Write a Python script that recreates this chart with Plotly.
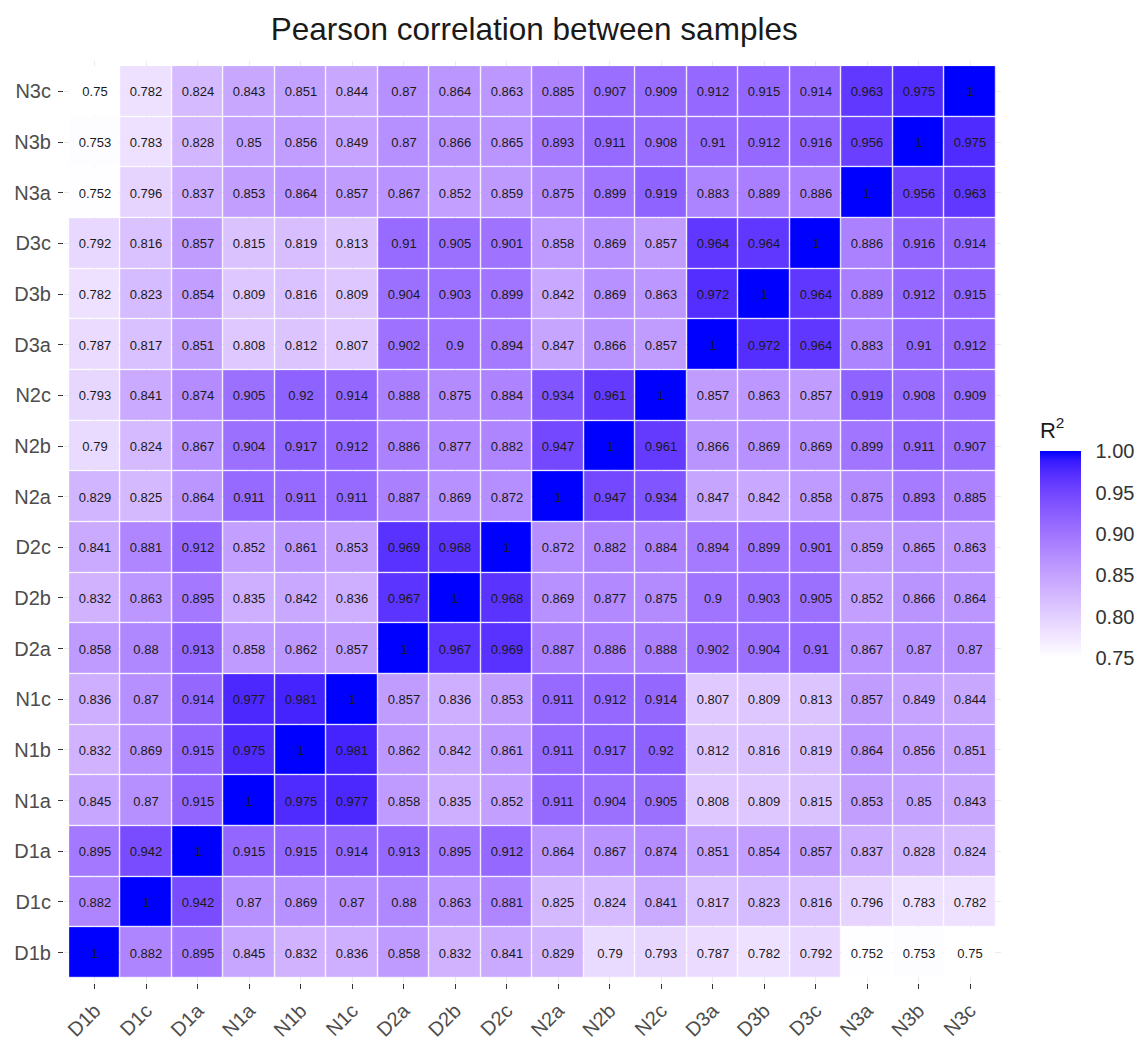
import plotly.graph_objects as go

# Sample order used on both axes (bottom-to-top on y, left-to-right on x)
samples = ["D1b", "D1c", "D1a", "N1a", "N1b", "N1c", "D2a", "D2b", "D2c",
           "N2a", "N2b", "N2c", "D3a", "D3b", "D3c", "N3a", "N3b", "N3c"]

# Pearson correlation of each sample against every sample (same column order)
r_D1b = [1, 0.882, 0.895, 0.845, 0.832, 0.836, 0.858, 0.832, 0.841, 0.829, 0.79, 0.793, 0.787, 0.782, 0.792, 0.752, 0.753, 0.75]
r_D1c = [0.882, 1, 0.942, 0.87, 0.869, 0.87, 0.88, 0.863, 0.881, 0.825, 0.824, 0.841, 0.817, 0.823, 0.816, 0.796, 0.783, 0.782]
r_D1a = [0.895, 0.942, 1, 0.915, 0.915, 0.914, 0.913, 0.895, 0.912, 0.864, 0.867, 0.874, 0.851, 0.854, 0.857, 0.837, 0.828, 0.824]
r_N1a = [0.845, 0.87, 0.915, 1, 0.975, 0.977, 0.858, 0.835, 0.852, 0.911, 0.904, 0.905, 0.808, 0.809, 0.815, 0.853, 0.85, 0.843]
r_N1b = [0.832, 0.869, 0.915, 0.975, 1, 0.981, 0.862, 0.842, 0.861, 0.911, 0.917, 0.92, 0.812, 0.816, 0.819, 0.864, 0.856, 0.851]
r_N1c = [0.836, 0.87, 0.914, 0.977, 0.981, 1, 0.857, 0.836, 0.853, 0.911, 0.912, 0.914, 0.807, 0.809, 0.813, 0.857, 0.849, 0.844]
r_D2a = [0.858, 0.88, 0.913, 0.858, 0.862, 0.857, 1, 0.967, 0.969, 0.887, 0.886, 0.888, 0.902, 0.904, 0.91, 0.867, 0.87, 0.87]
r_D2b = [0.832, 0.863, 0.895, 0.835, 0.842, 0.836, 0.967, 1, 0.968, 0.869, 0.877, 0.875, 0.9, 0.903, 0.905, 0.852, 0.866, 0.864]
r_D2c = [0.841, 0.881, 0.912, 0.852, 0.861, 0.853, 0.969, 0.968, 1, 0.872, 0.882, 0.884, 0.894, 0.899, 0.901, 0.859, 0.865, 0.863]
r_N2a = [0.829, 0.825, 0.864, 0.911, 0.911, 0.911, 0.887, 0.869, 0.872, 1, 0.947, 0.934, 0.847, 0.842, 0.858, 0.875, 0.893, 0.885]
r_N2b = [0.79, 0.824, 0.867, 0.904, 0.917, 0.912, 0.886, 0.877, 0.882, 0.947, 1, 0.961, 0.866, 0.869, 0.869, 0.899, 0.911, 0.907]
r_N2c = [0.793, 0.841, 0.874, 0.905, 0.92, 0.914, 0.888, 0.875, 0.884, 0.934, 0.961, 1, 0.857, 0.863, 0.857, 0.919, 0.908, 0.909]
r_D3a = [0.787, 0.817, 0.851, 0.808, 0.812, 0.807, 0.902, 0.9, 0.894, 0.847, 0.866, 0.857, 1, 0.972, 0.964, 0.883, 0.91, 0.912]
r_D3b = [0.782, 0.823, 0.854, 0.809, 0.816, 0.809, 0.904, 0.903, 0.899, 0.842, 0.869, 0.863, 0.972, 1, 0.964, 0.889, 0.912, 0.915]
r_D3c = [0.792, 0.816, 0.857, 0.815, 0.819, 0.813, 0.91, 0.905, 0.901, 0.858, 0.869, 0.857, 0.964, 0.964, 1, 0.886, 0.916, 0.914]
r_N3a = [0.752, 0.796, 0.837, 0.853, 0.864, 0.857, 0.867, 0.852, 0.859, 0.875, 0.899, 0.919, 0.883, 0.889, 0.886, 1, 0.956, 0.963]
r_N3b = [0.753, 0.783, 0.828, 0.85, 0.856, 0.849, 0.87, 0.866, 0.865, 0.893, 0.911, 0.908, 0.91, 0.912, 0.916, 0.956, 1, 0.975]
r_N3c = [0.75, 0.782, 0.824, 0.843, 0.851, 0.844, 0.87, 0.864, 0.863, 0.885, 0.907, 0.909, 0.912, 0.915, 0.914, 0.963, 0.975, 1]

corr = [r_D1b, r_D1c, r_D1a, r_N1a, r_N1b, r_N1c, r_D2a, r_D2b, r_D2c,
        r_N2a, r_N2b, r_N2c, r_D3a, r_D3b, r_D3c, r_N3a, r_N3b, r_N3c]

# Colour bar limits and tick labels
z_low, z_high = 0.75, 1.0
cbar_ticks = [0.75, 0.80, 0.85, 0.90, 0.95, 1.00]
cbar_ticktext = ["0.75", "0.80", "0.85", "0.90", "0.95", "1.00"]


# --- white -> blue gradient interpolated in CIE Lab space ---------------
def _to_lin(c):
    c = c / 255.0
    return c / 12.92 if c <= 0.04045 else ((c + 0.055) / 1.055) ** 2.4


def _from_lin(c):
    c = 12.92 * c if c <= 0.0031308 else 1.055 * c ** (1 / 2.4) - 0.055
    return max(0, min(255, round(c * 255)))


_WHITE = (0.95047, 1.0, 1.08883)


def rgb_to_lab(rgb):
    r, g, b = (_to_lin(v) for v in rgb)
    x = 0.4124 * r + 0.3576 * g + 0.1805 * b
    y = 0.2126 * r + 0.7152 * g + 0.0722 * b
    z = 0.0193 * r + 0.1192 * g + 0.9505 * b

    def f(t):
        return t ** (1 / 3) if t > 0.008856 else 7.787 * t + 16 / 116

    fx, fy, fz = f(x / _WHITE[0]), f(y / _WHITE[1]), f(z / _WHITE[2])
    return (116 * fy - 16, 500 * (fx - fy), 200 * (fy - fz))


def lab_to_rgb(lab):
    L, a, b = lab
    fy = (L + 16) / 116
    fx = fy + a / 500
    fz = fy - b / 200

    def finv(t):
        return t ** 3 if t ** 3 > 0.008856 else (t - 16 / 116) / 7.787

    x, y, z = finv(fx) * _WHITE[0], finv(fy) * _WHITE[1], finv(fz) * _WHITE[2]
    r = 3.2406 * x - 1.5372 * y - 0.4986 * z
    g = -0.9689 * x + 1.8758 * y + 0.0415 * z
    bb = 0.0557 * x - 0.2040 * y + 1.0570 * z
    return tuple(_from_lin(max(0.0, v)) for v in (r, g, bb))


lab_lo = rgb_to_lab((255, 255, 255))
lab_hi = rgb_to_lab((0, 0, 255))
n_stops = 21
colorscale = []
for i in range(n_stops):
    t = i / (n_stops - 1)
    lab = tuple(lo + (hi - lo) * t for lo, hi in zip(lab_lo, lab_hi))
    r, g, b = lab_to_rgb(lab)
    colorscale.append([t, f"rgb({r},{g},{b})"])

cell_text = [[f"{v:g}" for v in row] for row in corr]

FONT = "Liberation Sans, Arial, Helvetica, sans-serif"

fig = go.Figure(
    go.Heatmap(
        z=corr,
        x=samples,
        y=samples,
        zmin=z_low,
        zmax=z_high,
        colorscale=colorscale,
        xgap=1.2,
        ygap=1.2,
        text=cell_text,
        texttemplate="%{text}",
        textfont=dict(family=FONT, size=13, color="#1a1a1a"),
        hovertemplate="%{x} vs %{y}: %{z}<extra></extra>",
        colorbar=dict(
            title=dict(text="R<sup>2</sup>", side="top",
                       font=dict(family=FONT, size=22, color="#1a1a1a")),
            x=1.0415, xanchor="left", xpad=0,
            y=0.4825, yanchor="middle", ypad=0,
            len=240, lenmode="pixels",
            thickness=41, thicknessmode="pixels",
            outlinewidth=0,
            tickmode="array",
            tickvals=cbar_ticks,
            ticktext=cbar_ticktext,
            ticks="outside", ticklen=11, tickcolor="rgba(0,0,0,0)", tickwidth=1,
            tickfont=dict(family=FONT, size=20, color="#333333"),
        ),
    )
)

axis_common = dict(
    type="category",
    range=[-0.6, len(samples) - 0.4],
    showgrid=True,
    gridcolor="#ebebeb",
    gridwidth=1,
    zeroline=False,
    showline=False,
    ticks="outside",
    ticklen=5,
    tickwidth=1,
    tickcolor="#333333",
    tickfont=dict(family=FONT, size=20, color="#4d4d4d"),
)

fig.update_layout(
    width=1147,
    height=1053,
    margin=dict(l=64, r=143, t=61, b=51),
    paper_bgcolor="white",
    plot_bgcolor="white",
    font=dict(family=FONT),
    title=dict(
        text="Pearson correlation between samples",
        x=0.4657, xanchor="center",
        y=1 - 29 / 1053, yanchor="middle", yref="container",
        font=dict(family=FONT, size=31.5, color="#1a1a1a"),
    ),
    xaxis=dict(axis_common, tickangle=-45, ticklabelstandoff=2),
    yaxis=dict(axis_common, ticklabelstandoff=3),
)

fig.write_html("out.html")
